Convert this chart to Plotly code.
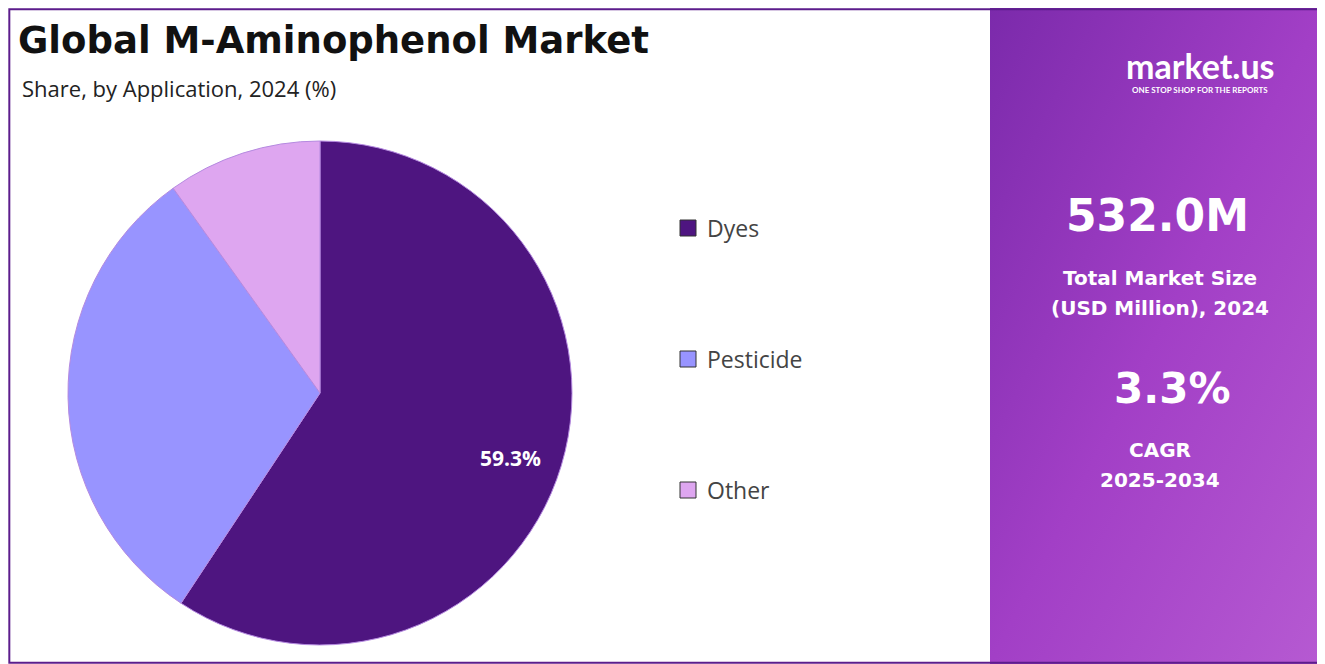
import plotly.graph_objects as go

W, H = 1317, 656  # browser body adds ~8px margin
OFF = 8

categories = ["Dyes", "Pesticide", "Other"]
shares = [59.3, 30.8, 9.9]
colors = ["#4e1580", "#9894ff", "#dea6f0"]

market_size = "532.0M"
cagr = "3.3%"


def px(x):
    return (x - OFF) / W


def py(y):
    return 1 - (y - OFF) / H


fig = go.Figure(go.Pie(
    labels=categories, values=shares, textinfo="none",
    marker=dict(colors=colors, line=dict(color="#b58ae0", width=1)),
    sort=False, direction="clockwise", rotation=0,
    domain=dict(x=[px(68), px(572)], y=[py(645), py(141)]),
    showlegend=False, hoverinfo="label+percent",
))

grad = ("data:image/svg+xml;utf8,<svg xmlns='http://www.w3.org/2000/svg' width='335' height='664'>"
        "<defs><linearGradient id='g' x1='0' y1='0' x2='1' y2='1'>"
        "<stop offset='0' stop-color='%237b2aab'/><stop offset='0.5' stop-color='%23a23fc6'/>"
        "<stop offset='1' stop-color='%23b65ad2'/></linearGradient></defs>"
        "<rect width='335' height='664' fill='url(%23g)'/></svg>")

fig.add_layout_image(dict(source=grad, xref="paper", yref="paper", x=px(990), y=1,
                          sizex=335 / W, sizey=1, sizing="stretch", layer="below",
                          xanchor="left", yanchor="top"))

shapes = [dict(type="rect", xref="paper", yref="paper", x0=0.001, x1=0.999, y0=0.002, y1=0.998,
               line=dict(color="#5c1d8c", width=2))]
annotations = [
    dict(text="<b>Global M-Aminophenol Market</b>", x=px(16), y=py(40), xanchor="left",
         font=dict(size=37, color="#111", family="DejaVu Sans")),
    dict(text="Share, by Application, 2024 (%)", x=px(20), y=py(88), xanchor="left",
         font=dict(size=22, color="#222", family="Open Sans")),
    dict(text="<b>%.1f%%</b>" % shares[0], x=px(510), y=py(458), xanchor="center",
         font=dict(size=21, color="white", family="Open Sans")),
]
for i, (c, col) in enumerate(zip(categories, colors)):
    y = 228 + i * 131
    shapes.append(dict(type="rect", xref="paper", yref="paper", x0=px(680), x1=px(696),
                       y0=py(y + 8), y1=py(y - 8), fillcolor=col, line=dict(color="#333", width=1)))
    annotations.append(dict(text=c, x=px(705), y=py(y), xanchor="left",
                            font=dict(size=23, color="#444", family="Open Sans")))

panel = [
    ("<b>market.us</b>", 66, 1200, 34, "Lato"),
    ("<b>ONE STOP SHOP FOR THE REPORTS</b>", 90, 1200, 8, "Lato"),
    ("<b>" + market_size + "</b>", 215, 1157, 44, "DejaVu Sans"),
    ("<b>Total Market Size</b>", 278, 1160, 20, "DejaVu Sans"),
    ("<b>(USD Million), 2024</b>", 308, 1160, 20, "DejaVu Sans"),
    ("<b>" + cagr + "</b>", 388, 1172, 42, "DejaVu Sans"),
    ("<b>CAGR</b>", 450, 1160, 20, "DejaVu Sans"),
    ("<b>2025-2034</b>", 480, 1160, 20, "DejaVu Sans"),
]
for t, y, x, s, fam in panel:
    annotations.append(dict(text=t, x=px(x), y=py(y), xanchor="center",
                            font=dict(size=s, color="white", family=fam)))
for a in annotations:
    a.update(xref="paper", yref="paper", showarrow=False, yanchor="middle")

fig.update_layout(width=W, height=H, margin=dict(l=0, r=0, t=0, b=0),
                  paper_bgcolor="white", shapes=shapes, annotations=annotations)
fig.write_html("out.html")
